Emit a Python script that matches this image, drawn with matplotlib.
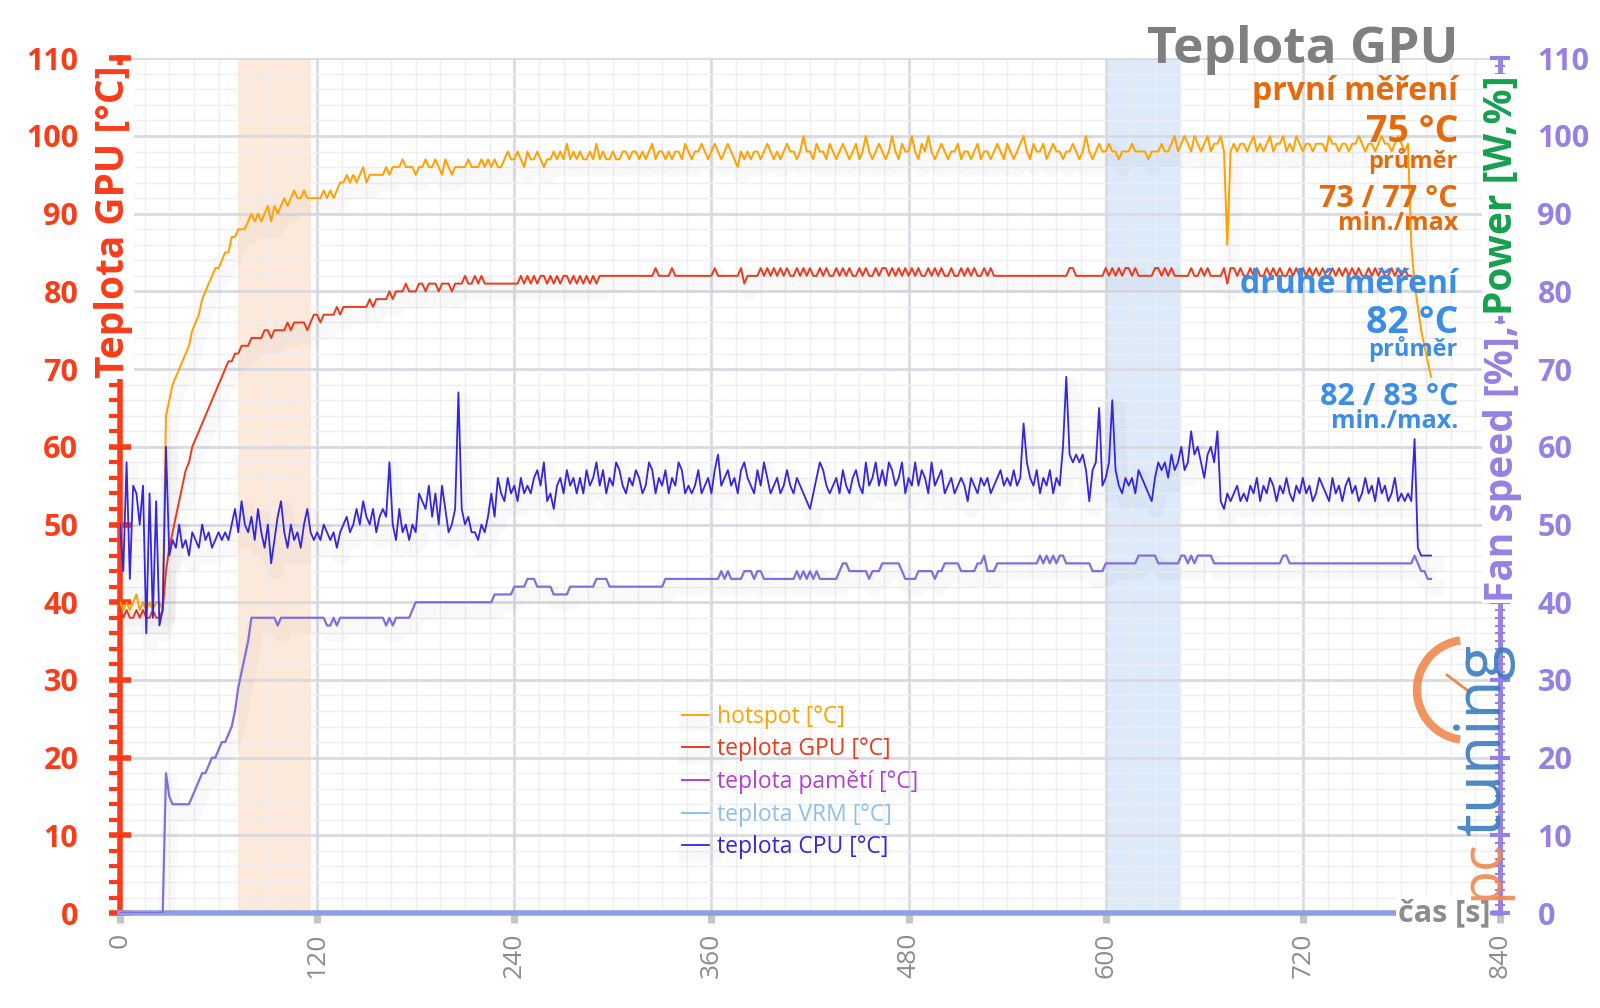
import numpy as np
import matplotlib.pyplot as plt
import matplotlib.patheffects as pe
from matplotlib.ticker import MultipleLocator
from matplotlib.patches import Arc

plt.rcParams['font.family'] = ['Open Sans', 'DejaVu Sans']

# samples every 2 s (0 .. 798 s)
step_s = 2

hotspot = [
    40, 39, 40, 39, 40, 41, 39, 40, 39, 40, 39, 40, 40, 39, 64, 66, 68, 69, 70, 71,
    72, 73, 75, 76, 77, 79, 80, 81, 82, 83, 83, 84, 85, 85, 87, 87, 88, 88, 88, 89,
    90, 89, 90, 89, 90, 91, 89, 91, 90, 91, 92, 91, 92, 93, 92, 92, 93, 92, 92, 92,
    92, 92, 93, 92, 93, 92, 93, 94, 94, 95, 94, 95, 94, 95, 96, 94, 95, 95, 95, 95,
    95, 96, 95, 96, 96, 96, 97, 96, 96, 96, 95, 96, 96, 97, 96, 96, 97, 96, 95, 97,
    96, 95, 96, 96, 96, 96, 97, 96, 96, 96, 97, 96, 97, 96, 97, 96, 96, 97, 98, 97,
    97, 98, 97, 96, 98, 97, 97, 98, 97, 96, 97, 97, 98, 97, 98, 97, 99, 97, 98, 97,
    98, 97, 97, 98, 97, 99, 97, 98, 97, 97, 98, 97, 97, 98, 98, 97, 98, 98, 97, 98,
    97, 98, 99, 97, 98, 98, 97, 98, 97, 98, 98, 97, 99, 98, 97, 98, 98, 99, 98, 97,
    98, 99, 98, 97, 98, 99, 98, 97, 96, 98, 97, 98, 97, 98, 98, 97, 98, 99, 98, 97,
    98, 97, 98, 99, 98, 98, 97, 98, 100, 98, 98, 97, 99, 98, 98, 97, 99, 98, 97, 98,
    99, 98, 97, 98, 99, 97, 98, 100, 98, 97, 98, 99, 98, 97, 98, 100, 98, 97, 99, 98,
    98, 100, 98, 97, 99, 98, 100, 98, 97, 98, 99, 98, 97, 98, 98, 99, 97, 98, 98, 97,
    98, 99, 97, 98, 98, 97, 98, 99, 98, 97, 99, 98, 97, 98, 99, 100, 98, 97, 99, 98,
    98, 99, 97, 98, 99, 98, 98, 97, 98, 98, 99, 98, 97, 98, 100, 98, 97, 98, 99, 98,
    98, 99, 98, 98, 97, 98, 98, 98, 99, 98, 98, 98, 98, 97, 98, 98, 98, 99, 98, 98,
    99, 100, 98, 99, 100, 99, 98, 100, 99, 98, 99, 100, 98, 99, 99, 100, 98, 86, 98, 99,
    98, 99, 99, 98, 99, 100, 98, 99, 98, 99, 100, 98, 99, 99, 100, 98, 99, 98, 100, 99,
    98, 99, 99, 98, 99, 99, 99, 98, 100, 99, 99, 98, 99, 99, 98, 99, 99, 100, 99, 98,
    99, 99, 98, 99, 100, 99, 99, 98, 99, 100, 99, 98, 99, 86, 81, 78, 75, 73, 71, 69,
]

gpu_temp = [
    39, 38, 39, 38, 38, 39, 38, 39, 38, 38, 39, 38, 38, 39, 44, 47, 49, 51, 53, 55,
    57, 58, 60, 61, 62, 63, 64, 65, 66, 67, 68, 69, 70, 71, 71, 72, 72, 73, 73, 73,
    74, 74, 74, 74, 75, 75, 74, 75, 75, 75, 75, 76, 75, 76, 76, 76, 76, 75, 76, 77,
    77, 76, 77, 77, 77, 77, 78, 77, 78, 78, 78, 78, 78, 78, 78, 78, 79, 78, 79, 79,
    79, 79, 80, 79, 80, 80, 80, 81, 80, 80, 80, 81, 81, 80, 81, 81, 81, 80, 81, 81,
    81, 80, 81, 81, 81, 82, 81, 81, 82, 81, 82, 81, 81, 81, 81, 81, 81, 81, 81, 81,
    81, 81, 82, 81, 82, 81, 82, 81, 82, 82, 81, 82, 81, 82, 81, 82, 82, 81, 82, 81,
    82, 81, 82, 81, 82, 81, 82, 82, 82, 82, 82, 82, 82, 82, 82, 82, 82, 82, 82, 82,
    82, 82, 82, 83, 82, 82, 82, 82, 83, 82, 82, 82, 82, 82, 82, 82, 82, 82, 82, 82,
    82, 83, 82, 82, 82, 82, 82, 82, 82, 83, 81, 82, 82, 82, 82, 83, 82, 83, 82, 83,
    82, 83, 82, 83, 82, 82, 83, 82, 83, 82, 83, 82, 82, 83, 82, 83, 82, 82, 83, 82,
    83, 82, 83, 82, 82, 83, 82, 83, 82, 82, 83, 82, 83, 83, 82, 83, 82, 83, 82, 83,
    82, 83, 82, 83, 82, 82, 83, 82, 83, 82, 83, 82, 82, 83, 82, 82, 83, 82, 83, 82,
    83, 82, 82, 83, 82, 83, 82, 82, 82, 82, 82, 82, 82, 82, 82, 82, 82, 82, 82, 82,
    82, 82, 82, 82, 82, 82, 82, 82, 82, 83, 83, 82, 82, 82, 82, 82, 82, 82, 82, 82,
    83, 82, 83, 82, 83, 82, 83, 83, 82, 83, 82, 82, 82, 82, 82, 83, 83, 82, 83, 82,
    83, 82, 82, 82, 82, 82, 83, 82, 82, 83, 82, 83, 82, 82, 82, 82, 83, 81, 83, 83,
    82, 83, 82, 82, 83, 82, 83, 82, 82, 83, 82, 83, 82, 83, 82, 82, 83, 82, 83, 82,
    83, 82, 83, 82, 83, 82, 83, 82, 82, 83, 82, 83, 82, 83, 82, 83, 82, 83, 82, 82,
    83, 82, 83, 82, 83, 82, 82, 83, 82, 83, 82, 83, 82, 82, None, None, None, None, None, None,
]

cpu_temp = [
    50, 44, 58, 43, 55, 54, 50, 55, 36, 54, 38, 53, 37, 39, 60, 46, 48, 47, 50, 47,
    48, 46, 49, 48, 47, 50, 48, 49, 47, 48, 49, 48, 49, 48, 50, 52, 49, 53, 50, 49,
    51, 48, 52, 49, 47, 50, 45, 48, 51, 53, 49, 47, 50, 48, 49, 47, 50, 52, 49, 48,
    49, 48, 50, 49, 48, 49, 47, 49, 50, 51, 49, 50, 52, 50, 53, 51, 50, 52, 49, 51,
    52, 51, 58, 50, 48, 52, 49, 50, 48, 50, 49, 54, 53, 52, 55, 51, 54, 50, 55, 52,
    49, 50, 52, 67, 52, 50, 51, 49, 49, 48, 50, 49, 51, 54, 51, 56, 54, 53, 56, 54,
    55, 53, 56, 54, 55, 54, 56, 57, 55, 58, 53, 54, 52, 55, 56, 54, 57, 55, 56, 54,
    56, 54, 57, 55, 56, 58, 55, 57, 54, 56, 55, 58, 57, 55, 54, 56, 55, 57, 56, 54,
    55, 58, 57, 54, 56, 55, 57, 54, 56, 55, 58, 57, 54, 55, 54, 55, 57, 54, 55, 56,
    54, 57, 59, 55, 56, 57, 55, 56, 54, 57, 58, 56, 55, 54, 57, 55, 58, 56, 54, 55,
    56, 54, 55, 57, 55, 54, 56, 55, 54, 53, 52, 54, 56, 58, 57, 55, 54, 55, 56, 54,
    57, 55, 54, 56, 57, 55, 54, 58, 55, 56, 58, 55, 57, 55, 58, 57, 55, 56, 58, 54,
    56, 55, 58, 55, 57, 56, 54, 58, 55, 56, 57, 54, 55, 56, 54, 55, 56, 55, 53, 56,
    55, 54, 56, 55, 56, 54, 55, 56, 57, 55, 56, 55, 57, 55, 56, 63, 58, 56, 55, 57,
    54, 56, 55, 57, 54, 56, 55, 60, 69, 59, 58, 59, 58, 59, 57, 53, 57, 58, 65, 55,
    56, 58, 66, 57, 55, 54, 56, 55, 56, 54, 57, 56, 55, 54, 53, 56, 58, 57, 58, 56,
    59, 57, 58, 60, 57, 58, 62, 59, 60, 58, 56, 59, 60, 58, 62, 53, 52, 54, 53, 54,
    55, 53, 54, 53, 55, 54, 56, 53, 55, 54, 56, 55, 53, 55, 54, 56, 54, 53, 55, 54,
    56, 54, 55, 53, 54, 56, 55, 54, 53, 56, 54, 55, 53, 55, 56, 54, 55, 53, 54, 56,
    54, 55, 53, 56, 54, 55, 53, 54, 56, 53, 54, 53, 54, 53, 61, 47, 46, 46, 46, 46,
]

fan_speed = [
    0, 0, 0, 0, 0, 0, 0, 0, 0, 0, 0, 0, 0, 0, 18, 15, 14, 14, 14, 14,
    14, 14, 15, 16, 17, 18, 18, 19, 20, 20, 21, 22, 22, 23, 24, 26, 29, 31, 33, 35,
    38, 38, 38, 38, 38, 38, 38, 38, 37, 38, 38, 38, 38, 38, 38, 38, 38, 38, 38, 38,
    38, 38, 38, 37, 37, 38, 37, 38, 38, 38, 38, 38, 38, 38, 38, 38, 38, 38, 38, 38,
    38, 37, 38, 37, 38, 38, 38, 38, 38, 39, 40, 40, 40, 40, 40, 40, 40, 40, 40, 40,
    40, 40, 40, 40, 40, 40, 40, 40, 40, 40, 40, 40, 40, 40, 41, 41, 41, 41, 41, 41,
    42, 42, 42, 42, 43, 43, 43, 42, 42, 42, 42, 42, 41, 41, 41, 41, 41, 42, 42, 42,
    42, 42, 42, 42, 42, 43, 43, 43, 43, 42, 42, 42, 42, 42, 42, 42, 42, 42, 42, 42,
    42, 42, 42, 42, 42, 42, 43, 43, 43, 43, 43, 43, 43, 43, 43, 43, 43, 43, 43, 43,
    43, 43, 43, 44, 43, 44, 43, 43, 43, 43, 44, 44, 44, 43, 44, 44, 43, 43, 43, 43,
    43, 43, 43, 43, 43, 43, 44, 43, 44, 43, 44, 43, 44, 43, 43, 43, 43, 43, 43, 44,
    45, 45, 44, 44, 44, 44, 44, 44, 43, 44, 44, 44, 45, 45, 45, 45, 45, 45, 44, 43,
    43, 43, 43, 44, 44, 44, 44, 44, 43, 44, 44, 45, 45, 45, 45, 45, 44, 44, 44, 44,
    44, 45, 45, 46, 44, 44, 44, 45, 45, 45, 45, 45, 45, 45, 45, 45, 45, 45, 45, 45,
    46, 45, 46, 45, 46, 45, 46, 46, 45, 45, 45, 45, 45, 45, 45, 45, 44, 44, 44, 44,
    45, 45, 45, 45, 45, 45, 45, 45, 45, 45, 46, 46, 46, 46, 46, 46, 45, 45, 45, 45,
    45, 45, 45, 46, 46, 45, 46, 45, 46, 46, 46, 46, 46, 45, 45, 45, 45, 45, 45, 45,
    45, 45, 45, 45, 45, 45, 45, 45, 45, 45, 45, 45, 45, 45, 46, 46, 45, 45, 45, 45,
    45, 45, 45, 45, 45, 45, 45, 45, 45, 45, 45, 45, 45, 45, 45, 45, 45, 45, 45, 45,
    45, 45, 45, 45, 45, 45, 45, 45, 45, 45, 45, 45, 45, 45, 46, 45, 44, 44, 43, 43,
]

first_window = [72, 116]    # s, "první měření"
second_window = [600, 645]  # s, "druhé měření"

RED = '#FA3C19'
PURPLE = '#9580E4'
GREEN = '#16A04E'
GRAY = '#8C8C8C'
ORANGE_TXT = '#E46A0C'
BLUE_TXT = '#3B8DE6'

t = np.arange(len(hotspot)) * step_s
shadow = [pe.SimpleLineShadow(offset=(3, -6), shadow_color='k', alpha=0.025, linewidth=12), pe.Normal()]

fig = plt.figure(figsize=(16, 10.08), dpi=100)
ax = fig.add_axes([0.075, 0.0942, 0.8625, 0.848])
ax2 = ax.twinx()

ax.axvspan(*first_window, color='#FDE9D9', zorder=0.2, lw=0)
ax.axvspan(*second_window, color='#DCEAFA', zorder=0.2, lw=0)

ax.plot(t, hotspot, color='#FFA200', lw=1.4, label='hotspot [°C]', path_effects=shadow, zorder=3)
ax.plot(t, np.array(gpu_temp, dtype=float), color='#EC3A1E', lw=1.4, label='teplota GPU [°C]', path_effects=shadow, zorder=3)
ax.plot([], [], color='#B23FD6', lw=1.4, label='teplota pamětí [°C]')
ax.plot([], [], color='#8EC0EE', lw=1.4, label='teplota VRM [°C]')
ax.plot(t, cpu_temp, color='#3526E0', lw=1.3, label='teplota CPU [°C]', path_effects=shadow, zorder=3)
ax2.plot(t, fan_speed, color='#7F70DC', lw=1.6, path_effects=shadow)

ax.set_xlim(0, 840)
ax.set_ylim(0, 110)
ax2.set_ylim(0, 110)
ax.xaxis.set_major_locator(MultipleLocator(120))
ax.xaxis.set_minor_locator(MultipleLocator(15))
ax.yaxis.set_major_locator(MultipleLocator(10))
ax.yaxis.set_minor_locator(MultipleLocator(2))
ax2.yaxis.set_major_locator(MultipleLocator(10))
ax2.yaxis.set_minor_locator(MultipleLocator(1))

ax.set_axisbelow(True)
ax.grid(which='major', color='#DADAE2', lw=2)
ax.grid(which='minor', color='#EFEFF3', lw=1)

for s in ['top', 'right']:
    ax.spines[s].set_visible(False)
for s in ['top', 'left', 'bottom']:
    ax2.spines[s].set_visible(False)
ax.spines['left'].set_color(RED)
ax.spines['left'].set_linewidth(4)
ax.spines['bottom'].set_color('#8FA0E0')
ax.spines['bottom'].set_linewidth(4)
ax2.spines['right'].set_color(PURPLE)
ax2.spines['right'].set_linewidth(3.5)

ax.tick_params(axis='y', which='major', direction='inout', length=16, width=4,
               color=RED, labelcolor=RED, labelsize=22, pad=22)
ax.tick_params(axis='y', which='minor', direction='out', length=8, width=3, color=RED)
ax2.tick_params(axis='y', which='major', direction='inout', length=14, width=3,
                color=PURPLE, labelcolor=PURPLE, labelsize=22, pad=20)
ax2.tick_params(axis='y', which='minor', direction='inout', length=7, width=1.5, color=PURPLE)
ax.tick_params(axis='x', which='major', direction='out', length=7, width=5,
               color='#C4C4C4', labelcolor=GRAY, labelsize=19, labelrotation=90, pad=7)
ax.tick_params(axis='x', which='minor', length=0)
for lbl in ax.get_yticklabels() + ax2.get_yticklabels():
    lbl.set_fontweight('bold')

ax.text(834, 0, 'čas [s]', ha='right', va='center', color=GRAY, fontsize=22,
        fontweight='bold', zorder=6, clip_on=False,
        bbox=dict(fc='white', ec='none', pad=1))

leg = ax.legend(loc='upper left', bbox_to_anchor=(0.426, 0.301), bbox_transform=fig.transFigure,
                frameon=False, fontsize=16.5, handlelength=1.2, handletextpad=0.35,
                labelspacing=0.38, borderpad=0, borderaxespad=0, labelcolor='linecolor')

# axis titles (white behind the text hides the spine, as in the original)
label_box = dict(fc='white', ec='none', pad=0.5)
fig.text(114 / 1600, 1 - 222 / 1008, 'Teplota GPU [°C]', rotation=90, ha='center', va='center',
         color=RED, fontsize=28, fontweight='bold', bbox=label_box)
fan_lbl = fig.text(1502 / 1600, 1 - 602 / 1008, 'Fan speed [%],', rotation=90, rotation_mode='anchor',
                   ha='left', va='center', color=PURPLE, fontsize=28, fontweight='bold', bbox=label_box)
fig.canvas.draw()
top = fan_lbl.get_window_extent().y1 + 10
fig.text(1502 / 1600, top / fig.bbox.height, 'Power [W,%]', rotation=90, rotation_mode='anchor',
         ha='left', va='center', color=GREEN, fontsize=28, fontweight='bold', bbox=label_box)

# title and measurement notes
xr = 1458 / 1600
notes = [
    ('Teplota GPU', 63, 37, '#7F7F7F'),
    ('první měření', 100, 23, ORANGE_TXT),
    ('75 °C', 142, 27, ORANGE_TXT),
    ('průměr', 168, 17, ORANGE_TXT),
    ('73 / 77 °C', 207, 22, ORANGE_TXT),
    ('min./max', 230, 18, ORANGE_TXT),
    ('druhé měření', 293, 23, BLUE_TXT),
    ('82 °C', 333, 27, BLUE_TXT),
    ('průměr', 356, 17, BLUE_TXT),
    ('82 / 83 °C', 405, 22, BLUE_TXT),
    ('min./max.', 428, 18, BLUE_TXT),
]
for txt, ybase, size, col in notes:
    fig.text(xr, 1 - ybase / 1008, txt, ha='right', va='baseline', fontsize=size,
             fontweight='bold', color=col)

# pctuning watermark
fig.add_artist(Arc((1467 / 1600, 1 - 690 / 1008), 100 / 1600, 100 / 1008, theta1=95, theta2=265,
                   transform=fig.transFigure, color='#F0884E', lw=6, alpha=0.9))
fig.add_artist(plt.Line2D([1447 / 1600, 1467 / 1600], [1 - 675 / 1008, 1 - 690 / 1008],
                          transform=fig.transFigure, color='#F0884E', lw=2))
pc = fig.text(1483 / 1600, 1 - 900 / 1008, 'pc', rotation=90, rotation_mode='anchor', ha='left',
              va='center', color='#F0884E', fontsize=40, alpha=0.9)
fig.canvas.draw()
pc_top = pc.get_window_extent().y1
fig.text(1483 / 1600, (pc_top + 4) / fig.bbox.height, 'tuning', rotation=90, rotation_mode='anchor',
         ha='left', va='center', color='#3A7CC0', fontsize=46, alpha=0.9)

fig.savefig('out.png', dpi=100)
